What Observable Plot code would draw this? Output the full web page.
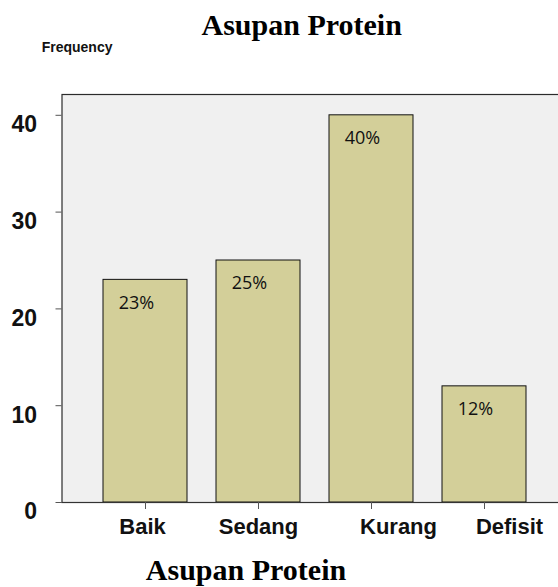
<!DOCTYPE html>
<html>
<head>
<meta charset="utf-8">
<script src="https://cdn.jsdelivr.net/npm/d3@7"></script>
<script src="https://cdn.jsdelivr.net/npm/@observablehq/plot@0.6"></script>
<style>
  html, body { margin: 0; padding: 0; background: #fff; }
  #chart { position: relative; width: 558px; height: 587px; }
</style>
</head>
<body>
<div id="chart"></div>
<script>
// Data
const categories = ["Baik", "Sedang", "Kurang", "Defisit"];
const frequencies = [23, 25, 40, 12];
const percentLabels = ["23%", "25%", "40%", "12%"];
const yTicks = [0, 10, 20, 30, 40];
const titleText = "Asupan Protein";
const yLabelText = "Frequency";
const xLabelText = "Asupan Protein";

const data = categories.map((c, i) => ({category: c, value: frequencies[i], pct: percentLabels[i]}));

// Styling adjustments (label nudges as in reference)
const xLabelShift = [-3, 0, 27, 25];

const W = 558, H = 587;
const axisFont = "'Liberation Sans', Arial, sans-serif";
const plot = Plot.plot({
  width: W,
  height: H,
  marginLeft: 61.5,
  marginRight: -2,
  marginTop: 94,
  marginBottom: 85,
  style: {background: "transparent", overflow: "visible"},
  x: {domain: categories, range: [86.7, 542.4], paddingInner: 0.254, paddingOuter: 0.127, label: null},
  y: {domain: [0, 42.15], label: null},
  marks: [
    Plot.frame({fill: "#f0f0f0", stroke: "#2b2b2b", strokeWidth: 1.2}),
    Plot.barY(data, {x: "category", y: "value", fill: "#d3cf99", stroke: "#111", strokeWidth: 1}),
    Plot.text(data, {x: "category", y: "value", text: "pct", dx: -9, dy: 23,
      fontFamily: "'Open Sans', sans-serif", fontSize: 18, fill: "#111"}),
    Plot.ruleY([0], {stroke: "#333", strokeWidth: 1.2}),
    Plot.axisY({ticks: yTicks, tickSize: 6, text: null, stroke: "#555", label: null}),
    Plot.axisY({ticks: yTicks, tickSize: 0, tickPadding: 25, dy: 9.5,
      fontFamily: axisFont, fontSize: 23, fontWeight: "bold", fill: "#111", label: null}),
    Plot.axisX({tickSize: 7, tickPadding: 9, stroke: "#555",
      fontFamily: axisFont, fontSize: 22, fontWeight: "bold", fill: "#111", label: null})
  ]
});

document.getElementById("chart").appendChild(plot);
const svg = d3.select(plot);

// Nudge x tick labels as in reference
svg.selectAll('g[aria-label="x-axis tick label"] text').each(function(d, i) {
  d3.select(this).attr("dx", xLabelShift[i] || 0);
});

// Titles
svg.append("text")
  .attr("x", 301.7).attr("y", 35)
  .attr("text-anchor", "middle")
  .attr("font-family", "'Liberation Serif', 'Times New Roman', serif")
  .attr("font-weight", "bold").attr("font-size", 30).attr("fill", "#000")
  .text(titleText);

svg.append("text")
  .attr("x", 41.7).attr("y", 51.7)
  .attr("text-anchor", "start")
  .attr("font-family", axisFont)
  .attr("font-weight", "bold").attr("font-size", 14).attr("fill", "#111")
  .text(yLabelText);

svg.append("text")
  .attr("x", 246).attr("y", 580)
  .attr("text-anchor", "middle")
  .attr("font-family", "'Liberation Serif', 'Times New Roman', serif")
  .attr("font-weight", "bold").attr("font-size", 30).attr("fill", "#000")
  .text(xLabelText);
</script>
</body>
</html>
